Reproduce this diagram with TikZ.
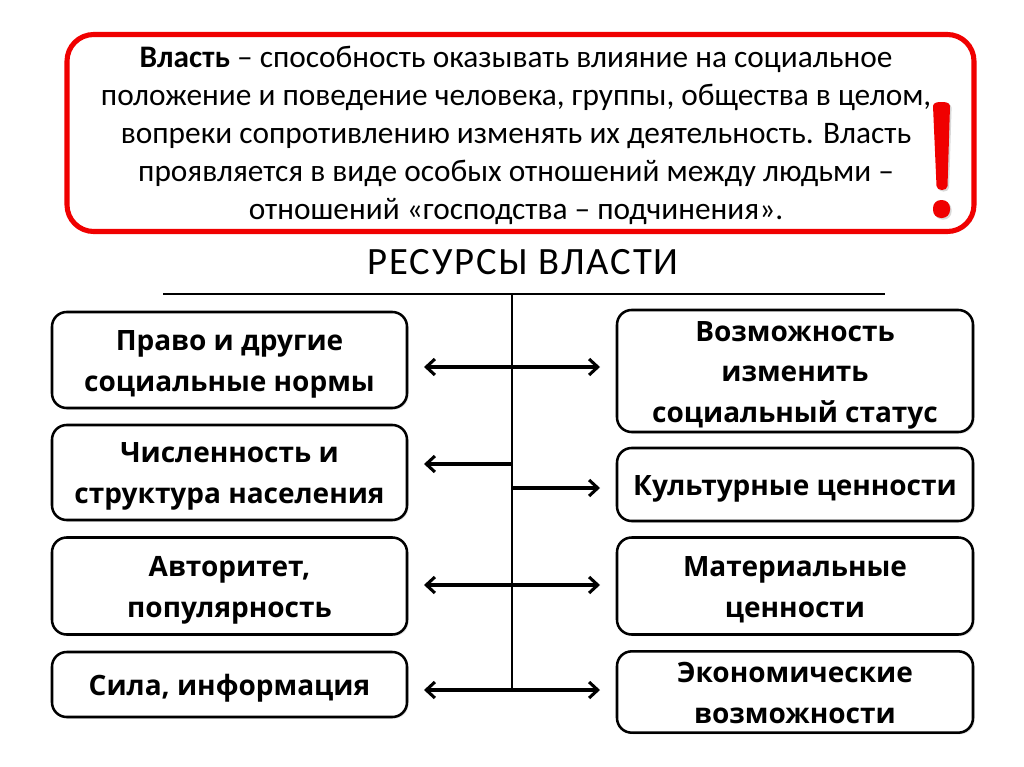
\documentclass[tikz,border=0pt]{standalone}
\usepackage{fontspec}
\usepackage{array}
\setmainfont{Open Sans}
\newfontfamily\calib{Carlito}
\usetikzlibrary{arrows.meta,shadows}
\definecolor{alarm}{RGB}{240,0,0}
\renewcommand{\arraystretch}{0}
\newcommand{\res}[1]{\begin{tabular}{@{}>{\rule[-7.25pt]{0pt}{30.5pt}}c@{}}#1\end{tabular}}
\begin{document}
\begin{tikzpicture}[x=0.75pt,y=-0.75pt,
  resbox/.style={draw=black,line width=1.9pt,rounded corners=11pt,fill=white,
    font=\bfseries\fontsize{21}{30.5}\selectfont,inner sep=0pt,
    drop shadow={shadow xshift=1.2pt,shadow yshift=-1.2pt,opacity=0.25}},
  barb/.tip={Straight Barb[length=6.5pt,width=12pt]},
  conn/.style={line width=2.3pt,arrows={barb-barb}},
  connr/.style={line width=2.3pt,arrows={-barb}},
  trunk/.style={line width=1.7pt}]
\useasboundingbox (0,0) rectangle (1024,767);
% definition box
\node (def) [draw=alarm,line width=3.8pt,rounded corners=20pt,fill=white,
  minimum width=0.75*907pt,minimum height=0.75*197pt,
  drop shadow={shadow xshift=1.5pt,shadow yshift=-1.5pt,opacity=0.3}] at (520.5,133) {};
\node (deftext) [align=center,font=\calib\fontsize{23.5}{28.5}\selectfont,inner sep=0pt] at (516,135)
  {\textbf{Власть} – способность оказывать влияние на социальное\\
   положение и поведение человека, группы, общества в целом,\\
   вопреки сопротивлению изменять их деятельность. Власть\\
   проявляется в виде особых отношений между людьми –\\
   отношений «господства – подчинения».};
% exclamation mark
\fill[alarm,drop shadow={shadow xshift=1.2pt,shadow yshift=-1.2pt,opacity=0.3}]
  (933,106) to[out=85,in=180] (941.5,102) to[out=0,in=95] (950,106)
  -- (947.5,186) to[out=-90,in=0] (942,190) to[out=180,in=-90] (936.5,186) -- cycle;
\fill[alarm,rounded corners=6pt,drop shadow={shadow xshift=1.2pt,shadow yshift=-1.2pt,opacity=0.3}]
  (933,200) rectangle (950,218);
% title
\node (title) [font=\calib\fontsize{29}{32}\selectfont,inner sep=0pt] at (523,262)
  {Р\kern1.3pt Е\kern1.3pt С\kern1.3pt У\kern1.3pt Р\kern1.3pt С\kern1.3pt Ы\kern1.3pt\ В\kern1.3pt Л\kern1.3pt А\kern1.3pt С\kern1.3pt Т\kern1.3pt И};
\coordinate (hl) at (163,294);
\coordinate (hr) at (885,294);
\coordinate (top) at (512,294);
\coordinate (bot) at (512,690);
\draw[line width=2.2pt] (hl) -- (hr);
\draw[trunk] (top) -- (bot);
% left boxes
\node (L1) [resbox,minimum width=0.75*355pt,minimum height=0.75*96pt] at (229.5,360) {\res{Право и другие\\социальные нормы}};
\node (L2) [resbox,minimum width=0.75*355pt,minimum height=0.75*95pt] at (229.5,472.5) {\res{Численность и\\структура населения}};
\node (L3) [resbox,minimum width=0.75*355pt,minimum height=0.75*97pt] at (229.5,586) {\res{Авторитет,\\популярность}};
\node (L4) [resbox,minimum width=0.75*355pt,minimum height=0.75*65pt] at (229.5,684.5) {\res{Сила, информация}};
% right boxes
\node (R1) [resbox,minimum width=0.75*356pt,minimum height=0.75*121pt] at (795,371) {\res{Возможность\\изменить\\социальный статус}};
\node (R2) [resbox,minimum width=0.75*356pt,minimum height=0.75*73pt] at (795,484.5) {\res{Культурные ценности}};
\node (R3) [resbox,minimum width=0.75*356pt,minimum height=0.75*97pt] at (795,586) {\res{Материальные\\ценности}};
\node (R4) [resbox,minimum width=0.75*356pt,minimum height=0.75*80pt] at (795,692) {\res{Экономические\\возможности}};
% connector end points
\coordinate (a1l) at (424,367); \coordinate (a1r) at (600,367);
\coordinate (a2l) at (424,464); \coordinate (j2l) at (512,464);
\coordinate (a2r) at (600,488); \coordinate (j2r) at (512,488);
\coordinate (a3l) at (424,585); \coordinate (a3r) at (600,585);
\coordinate (a4l) at (424,690); \coordinate (a4r) at (600,690);
\draw[conn] (a1l) -- (a1r);
\draw[connr] (j2l) -- (a2l);
\draw[connr] (j2r) -- (a2r);
\draw[conn] (a3l) -- (a3r);
\draw[conn] (a4l) -- (a4r);
\end{tikzpicture}
\end{document}
